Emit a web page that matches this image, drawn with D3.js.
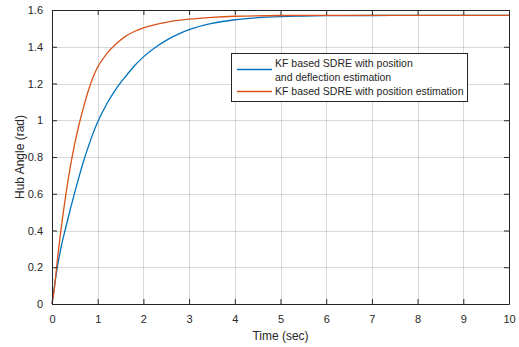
<!DOCTYPE html>
<html>
<head>
<meta charset="utf-8">
<script src="https://cdn.jsdelivr.net/npm/d3@7"></script>
<style>
  body { margin: 0; background: #fff; }
  text { font-family: "Liberation Sans", Arial, sans-serif; fill: #262626; }
</style>
</head>
<body>
<div id="chart"></div>
<script>
// size and margins
const width = 519;
const height = 347;
const margin = { top: 10, right: 10, bottom: 43, left: 52 };
const innerWidth = width - margin.left - margin.right;
const innerHeight = height - margin.top - margin.bottom;

// sample times (sec)
const timeBlue = [0, 0.05, 0.1, 0.2, 0.3, 0.4, 0.5, 0.6, 0.7, 0.8, 0.9, 1.0, 1.2, 1.4, 1.6, 1.8, 2.0, 2.25, 2.5, 2.75, 3.0, 3.5, 4.0, 4.5, 5.0, 5.5, 6.0, 7.0, 8.0, 9.0, 10.0];
// KF based SDRE with position and deflection estimation
const hubBlue = [0, 0.09, 0.175, 0.31, 0.415, 0.515, 0.61, 0.70, 0.785, 0.86, 0.93, 0.99, 1.09, 1.17, 1.235, 1.295, 1.345, 1.395, 1.435, 1.467, 1.493, 1.527, 1.547, 1.558, 1.564, 1.567, 1.569, 1.570, 1.571, 1.571, 1.571];

const timeOrange = [0, 0.05, 0.1, 0.2, 0.3, 0.4, 0.5, 0.6, 0.7, 0.8, 0.9, 1.0, 1.2, 1.4, 1.6, 1.8, 2.0, 2.5, 3.0, 3.5, 4.0, 5.0, 6.0, 7.0, 8.0, 9.0, 10.0];
// KF based SDRE with position estimation
const hubOrange = [0, 0.08, 0.2, 0.41, 0.59, 0.745, 0.875, 0.985, 1.08, 1.165, 1.235, 1.29, 1.363, 1.415, 1.455, 1.483, 1.503, 1.533, 1.550, 1.560, 1.566, 1.570, 1.571, 1.571, 1.571, 1.571, 1.571];

const xTicks = [0, 1, 2, 3, 4, 5, 6, 7, 8, 9, 10];
const yTicks = [0, 0.2, 0.4, 0.6, 0.8, 1, 1.2, 1.4, 1.6];
const legendLabels = [["KF based SDRE with position", "and deflection estimation"], ["KF based SDRE with position estimation"]];
const colors = ["#0072BD", "#D95319"];

const series = [
    timeBlue.map(function (t, i) { return { t: t, v: hubBlue[i] }; }),
    timeOrange.map(function (t, i) { return { t: t, v: hubOrange[i] }; })
];

const x = d3.scaleLinear().domain([0, 10]).range([0, innerWidth]);
const y = d3.scaleLinear().domain([0, 1.6]).range([innerHeight, 0]);

const svg = d3.select("#chart")
    .append("svg")
    .attr("width", width)
    .attr("height", height)
    .append("g")
    .attr("transform", "translate(" + margin.left + "," + margin.top + ")");

// grid
svg.append("g")
    .selectAll("line")
    .data(xTicks.slice(1, -1))
    .enter()
    .append("line")
    .attr("x1", function (d) { return Math.round(x(d)) + 0.5; })
    .attr("x2", function (d) { return Math.round(x(d)) + 0.5; })
    .attr("y1", 0)
    .attr("y2", innerHeight)
    .attr("stroke", "#000")
    .attr("stroke-opacity", 0.15);

svg.append("g")
    .selectAll("line")
    .data(yTicks.slice(1, -1))
    .enter()
    .append("line")
    .attr("x1", 0)
    .attr("x2", innerWidth)
    .attr("y1", function (d) { return Math.round(y(d)) + 0.5; })
    .attr("y2", function (d) { return Math.round(y(d)) + 0.5; })
    .attr("stroke", "#000")
    .attr("stroke-opacity", 0.15);

// lines
const line = d3.line()
    .x(function (d) { return x(d.t); })
    .y(function (d) { return y(d.v); })
    .curve(d3.curveMonotoneX);

series.forEach(function (s, i) {
    svg.append("path")
        .datum(s)
        .attr("fill", "none")
        .attr("stroke", colors[i])
        .attr("stroke-width", 1.3)
        .attr("d", line);
});

// axes, ticks inward like matlab
function styleAxis(g) {
    g.select(".domain").attr("stroke", "#262626");
    g.selectAll(".tick line").attr("stroke", "#262626");
    g.selectAll(".tick text").style("font-size", "11px").attr("fill", "#262626");
}

svg.append("g")
    .attr("transform", "translate(0," + innerHeight + ")")
    .call(d3.axisBottom(x).tickValues(xTicks).tickSizeInner(-5).tickSizeOuter(0).tickPadding(11))
    .call(styleAxis);

svg.append("g")
    .call(d3.axisLeft(y).tickValues(yTicks).tickFormat(d3.format("~g")).tickSizeInner(-5).tickSizeOuter(0).tickPadding(9))
    .call(styleAxis);

svg.append("g")
    .call(d3.axisTop(x).tickValues(xTicks).tickFormat("").tickSizeInner(-5).tickSizeOuter(0))
    .call(styleAxis);

svg.append("g")
    .attr("transform", "translate(" + innerWidth + ",0)")
    .call(d3.axisRight(y).tickValues(yTicks).tickFormat("").tickSizeInner(-5).tickSizeOuter(0))
    .call(styleAxis);

// axis labels
svg.append("text")
    .attr("x", innerWidth / 2)
    .attr("y", innerHeight + 36)
    .attr("text-anchor", "middle")
    .style("font-size", "12px")
    .text("Time (sec)");

svg.append("text")
    .attr("transform", "rotate(-90)")
    .attr("x", -innerHeight / 2)
    .attr("y", -28)
    .attr("text-anchor", "middle")
    .style("font-size", "12px")
    .text("Hub Angle (rad)");

// legend
const legend = svg.append("g")
    .attr("transform", "translate(" + (231 - margin.left) + "," + (53 - margin.top) + ")");

legend.append("rect")
    .attr("x", 0.5)
    .attr("y", 0.5)
    .attr("width", 236)
    .attr("height", 48)
    .attr("fill", "#fff")
    .attr("stroke", "#262626");

legend.append("line")
    .attr("x1", 6).attr("x2", 41)
    .attr("y1", 16.5).attr("y2", 16.5)
    .attr("stroke", colors[0]).attr("stroke-width", 1.3);

legend.append("line")
    .attr("x1", 6).attr("x2", 41)
    .attr("y1", 38.5).attr("y2", 38.5)
    .attr("stroke", colors[1]).attr("stroke-width", 1.3);

legend.append("text").attr("x", 44).attr("y", 14).style("font-size", "10.5px").text(legendLabels[0][0]);
legend.append("text").attr("x", 44).attr("y", 28).style("font-size", "10.5px").text(legendLabels[0][1]);
legend.append("text").attr("x", 44).attr("y", 42).style("font-size", "10.5px").text(legendLabels[1][0]);
</script>
</body>
</html>
